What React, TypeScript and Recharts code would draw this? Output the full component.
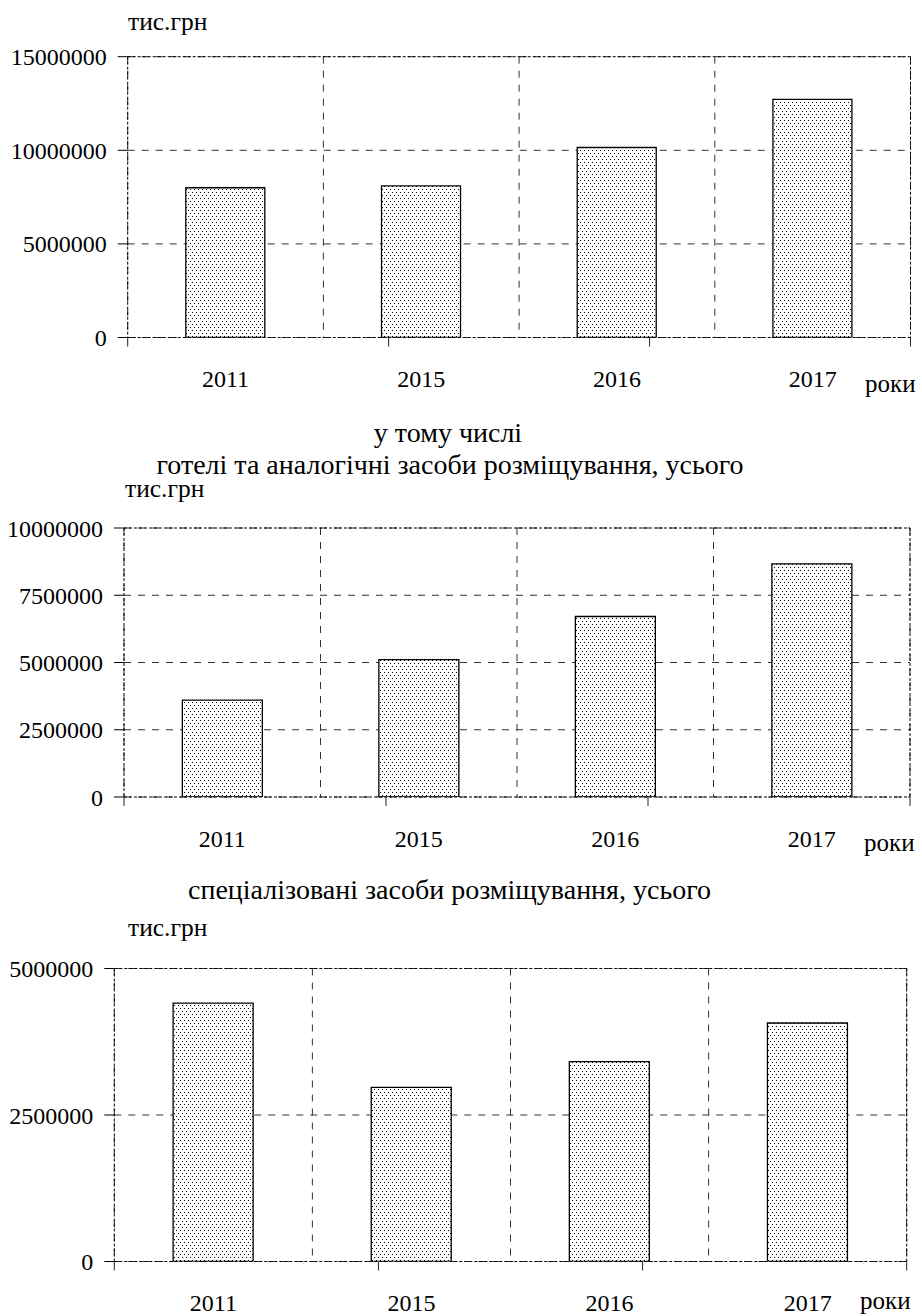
import React from 'react';
import { BarChart, Bar, XAxis, YAxis, CartesianGrid } from 'recharts';

const years = ['2011', '2015', '2016', '2017'];
const totalValues = [8000000, 8100000, 10150000, 12720000];
const hotelValues = [3600000, 5110000, 6710000, 8670000];
const specialValues = [4410000, 2970000, 3410000, 4070000];
const totalTicks = [0, 5000000, 10000000, 15000000];
const hotelTicks = [0, 2500000, 5000000, 7500000, 10000000];
const specialTicks = [0, 2500000, 5000000];
const unitLabel = 'тис.грн';
const xUnitLabel = 'роки';
const subtitle = 'у тому числі';
const hotelTitle = 'готелі та аналогічні засоби розміщування, усього';
const specialTitle = 'спеціалізовані засоби розміщування, усього';

const boundaryTicks = years.map((_, i) => i).concat(years.length);

const FONT = "'Liberation Serif', 'Times New Roman', Times, serif";
const dotted = { stroke: '#000', strokeDasharray: '3 2', strokeWidth: 1 };

const YearTick = (props: any) => {
  const { x, y, payload } = props;
  return (
    <text x={x} y={y + 48.5} textAnchor="middle" style={{ fontSize: 24, fontFamily: FONT }} fill="#000">
      {payload.value}
    </text>
  );
};

const EmptyTick = () => <g />;

const gridX = (props: any) => {
  const { xAxis, offset } = props;
  if (xAxis && typeof xAxis.scale === 'function') {
    return boundaryTicks.map((t) => xAxis.scale(t));
  }
  return boundaryTicks.map((t) => offset.left + (offset.width * t) / years.length);
};

type PanelProps = {
  values: number[];
  ticks: number[];
  top: number;
  height: number;
  plotTop: number;
  plotBottom: number;
  left: number;
  right: number;
};

function Panel({ values, ticks, top, height, plotTop, plotBottom, left, right }: PanelProps) {
  const data = years.map((year, i) => ({ year, value: values[i] }));
  const max = ticks[ticks.length - 1];
  const bottomH = top + height - plotBottom - 1;
  return (
    <div style={{ position: 'absolute', left: 0, top, width: 922, height }}>
      <BarChart
        width={922}
        height={height}
        data={data}
        margin={{ top: plotTop - top - 1, right: 922 - right - 1, left: 0, bottom: 0 }}
        barCategoryGap="29.7%"
      >
        <CartesianGrid
          xAxisId="b"
          yAxisId="l"
          stroke="#333"
          strokeDasharray="7 7"
          syncWithTicks
          verticalCoordinatesGenerator={gridX}
        />
        <XAxis
          xAxisId="b"
          type="number"
          domain={[0, years.length]}
          ticks={boundaryTicks}
          allowDataOverflow
          interval={0}
          height={1}
          tick={<EmptyTick />}
          tickSize={9}
          tickLine={{ stroke: '#222' }}
          axisLine={dotted}
        />
        <XAxis
          xAxisId="c"
          dataKey="year"
          height={bottomH}
          tickLine={false}
          axisLine={false}
          tickSize={0}
          tickMargin={0}
          interval={0}
          tick={<YearTick />}
        />
        <XAxis
          xAxisId="t"
          orientation="top"
          type="number"
          domain={[0, years.length]}
          allowDataOverflow
          height={1}
          tick={false}
          tickLine={false}
          axisLine={dotted}
        />
        <YAxis
          yAxisId="l"
          width={left}
          domain={[0, max]}
          ticks={ticks}
          allowDataOverflow
          interval={0}
          tickSize={10}
          tickMargin={11}
          tickLine={{ stroke: '#000' }}
          axisLine={dotted}
          tick={{ fill: '#000', fontSize: 24, style: { fontFamily: FONT } }}
        />
        <YAxis
          yAxisId="r"
          orientation="right"
          width={1}
          domain={[0, max]}
          allowDataOverflow
          tick={false}
          tickLine={false}
          axisLine={dotted}
        />
        <Bar
          xAxisId="c"
          yAxisId="l"
          dataKey="value"
          fill="url(#dots)"
          stroke="#000"
          strokeWidth={1.3}
          isAnimationActive={false}
        />
      </BarChart>
    </div>
  );
}

const unitStyle = { fontSize: 25.5, fontFamily: FONT };
const yearsUnitStyle = { fontSize: 25, fontFamily: FONT };
const titleStyle = { fontSize: 28, fontFamily: FONT };

export default function App() {
  return (
    <div style={{ position: 'absolute', left: 0, top: 0, width: 922, height: 1316, background: '#fff', overflow: 'hidden', fontFamily: FONT }}>
      <svg width={0} height={0} style={{ position: 'absolute' }}>
        <defs>
          <pattern id="dots" width="4" height="6" patternUnits="userSpaceOnUse">
            <rect width="4" height="6" fill="#fff" />
            <rect x="0" y="0" width="1" height="1" fill="#000" />
            <rect x="2" y="3" width="1" height="1" fill="#000" />
          </pattern>
        </defs>
      </svg>
      <Panel values={totalValues} ticks={totalTicks} top={0} height={400} plotTop={56.7} plotBottom={337.5} left={127.7} right={910.5} />
      <Panel values={hotelValues} ticks={hotelTicks} top={480} height={400} plotTop={528} plotBottom={797} left={124} right={910} />
      <Panel values={specialValues} ticks={specialTicks} top={930} height={386} plotTop={968.5} plotBottom={1261.5} left={114.3} right={906.7} />
      <svg width={922} height={1316} style={{ position: 'absolute', left: 0, top: 0, pointerEvents: 'none' }}>
        <text x={128} y={29.5} fill="#000" style={unitStyle}>{unitLabel}</text>
        <text x={865} y={392} fill="#000" style={yearsUnitStyle}>{xUnitLabel}</text>
        <text x={448} y={442} textAnchor="middle" fill="#000" style={titleStyle}>{subtitle}</text>
        <text x={450} y={474} textAnchor="middle" fill="#000" style={titleStyle}>{hotelTitle}</text>
        <text x={125} y={497} fill="#000" style={unitStyle}>{unitLabel}</text>
        <text x={864} y={851} fill="#000" style={yearsUnitStyle}>{xUnitLabel}</text>
        <text x={449.5} y={899} textAnchor="middle" fill="#000" style={titleStyle}>{specialTitle}</text>
        <text x={128} y={936} fill="#000" style={unitStyle}>{unitLabel}</text>
        <text x={860} y={1309} fill="#000" style={yearsUnitStyle}>{xUnitLabel}</text>
      </svg>
    </div>
  );
}
